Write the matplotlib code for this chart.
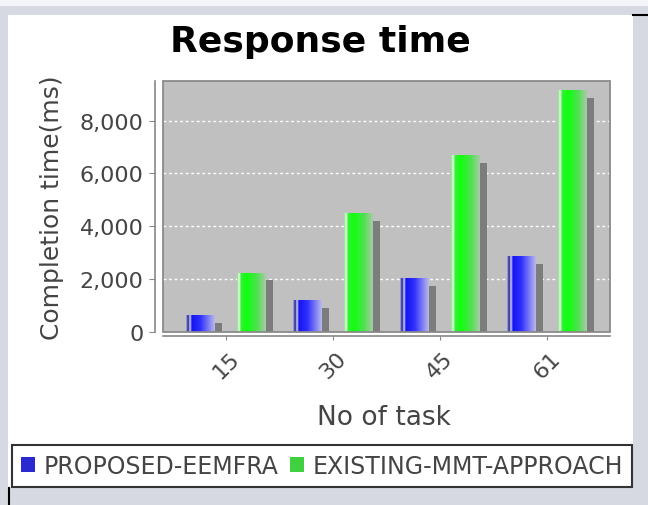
"""
Response time bar chart (JFreeChart-style 3D gradient bars)
"""

import matplotlib
matplotlib.use("Agg")
import matplotlib.pyplot as plt
import numpy as np
from matplotlib.colors import LinearSegmentedColormap
from matplotlib.patches import Rectangle, Patch
from matplotlib.lines import Line2D
from matplotlib.ticker import FuncFormatter

# Data
tasks = ["15", "30", "45", "61"]
proposed = [650, 1200, 2050, 2880]
existing = [2250, 4500, 6700, 9150]
series_names = ["PROPOSED-EEMFRA", "EXISTING-MMT-APPROACH"]
y_ticks = [0, 2000, 4000, 6000, 8000]

W, H = 648, 506
fig = plt.figure(figsize=(W / 100, H / 100), dpi=100)
fig.patch.set_facecolor("#d6d9e1")

# White chart panel and screenshot edges
fig.add_artist(Rectangle((0, 1 - 7 / H), 1, 7 / H, transform=fig.transFigure,
                         fc="#f4f5f8", ec="none", zorder=0))
fig.add_artist(Rectangle((8 / W, 1 - 489 / H), 625 / W, 473 / H,
                         transform=fig.transFigure, fc="white", ec="none", zorder=0))
fig.add_artist(Line2D([633 / W, 1], [1 - 16 / H] * 2, transform=fig.transFigure,
                      color="black", lw=1.5))
fig.add_artist(Line2D([9 / W] * 2, [0, 1 - 489 / H], transform=fig.transFigure,
                      color="black", lw=1.5))

ax = fig.add_axes([163 / W, 1 - 333 / H, 447 / W, 251 / H])
ax.set_facecolor("#c0c0c0")

x = np.arange(len(tasks))
bar_w = 0.27
off = 0.24
sh_dx, sh_dy = 0.065, 300

# Shadows
for vals, dx in [(proposed, -off), (existing, off)]:
    ax.bar(x + dx + sh_dx, np.array(vals) - sh_dy, bar_w, color="#7c7c7c",
           zorder=2, linewidth=0)

blue_cmap = LinearSegmentedColormap.from_list("blue", [
    (0.0, "#a8a8e8"), (0.07, "#1c1c80"), (0.13, "#d8d8ff"), (0.2, "#1414f0"),
    (0.5, "#3030ff"), (1.0, "#b8b8ec")])
green_cmap = LinearSegmentedColormap.from_list("green", [
    (0.0, "#90e090"), (0.07, "#e8ffe8"), (0.14, "#30f030"), (0.35, "#10ff10"),
    (0.7, "#50e050"), (1.0, "#a8cca8")])

grad = np.linspace(0, 1, 64).reshape(1, -1)
for vals, dx, cmap in [(proposed, -off, blue_cmap), (existing, off, green_cmap)]:
    bars = ax.bar(x + dx, vals, bar_w, color="none", linewidth=0, zorder=3)
    for b in bars:
        im = ax.imshow(grad, cmap=cmap, aspect="auto", zorder=3,
                       extent=[b.get_x(), b.get_x() + b.get_width(), 0, b.get_height()])
        im.set_clip_path(b)

ax.set_xlim(-0.59, 3.59)
ax.set_ylim(0, 9500)

# Grid
ax.set_yticks(y_ticks)
ax.yaxis.grid(True, color="white", linestyle=(0, (2, 2)), linewidth=1)
ax.set_axisbelow(True)
ax.yaxis.set_major_formatter(FuncFormatter(lambda v, p: f"{int(v):,}"))

# Plot border plus offset axis lines
ax.add_patch(Rectangle((0, 0), 1, 1, transform=ax.transAxes, fill=False,
                       ec="#8a8a8a", lw=1.3, zorder=5, clip_on=False))
for s in ["top", "right"]:
    ax.spines[s].set_visible(False)
ax.spines["left"].set_position(("outward", 6))
ax.spines["bottom"].set_position(("outward", 3))
for s in ["left", "bottom"]:
    ax.spines[s].set_color("#888888")
    ax.spines[s].set_linewidth(1.2)

ax.set_xticks(x)
ax.set_xticklabels(tasks, rotation=45, ha="center", va="top")
ax.tick_params(axis="y", colors="#888888", labelcolor="#444444", labelsize=16,
               length=4, pad=4)
ax.tick_params(axis="x", colors="#888888", labelcolor="#444444", labelsize=16,
               length=3, pad=5)

# Labels
fig.text(0.495, 1 - 42 / H, "Response time", ha="center", va="center",
         fontsize=26, fontweight="bold", color="black")
fig.text(52 / W, 1 - 208 / H, "Completion time(ms)", rotation=90, ha="center",
         va="center", fontsize=18, color="#444444")
fig.text(384 / W, 1 - 418 / H, "No of task", ha="center", va="center",
         fontsize=19, color="#444444")

# Legend
handles = [Patch(fc="#2a2ad0", ec="none"), Patch(fc="#40d040", ec="none")]
leg = fig.legend(handles, series_names, loc="center", ncol=2,
                 bbox_to_anchor=(322 / W, 1 - 467 / H), fontsize=17,
                 frameon=True, fancybox=False, handlelength=0.6, handleheight=0.6,
                 handletextpad=0.35, columnspacing=0.5, borderpad=0.4,
                 borderaxespad=0)
leg.get_frame().set_edgecolor("black")
leg.get_frame().set_linewidth(1.5)
for t in leg.get_texts():
    t.set_color("#444444")

fig.savefig("out.png", dpi=100)
